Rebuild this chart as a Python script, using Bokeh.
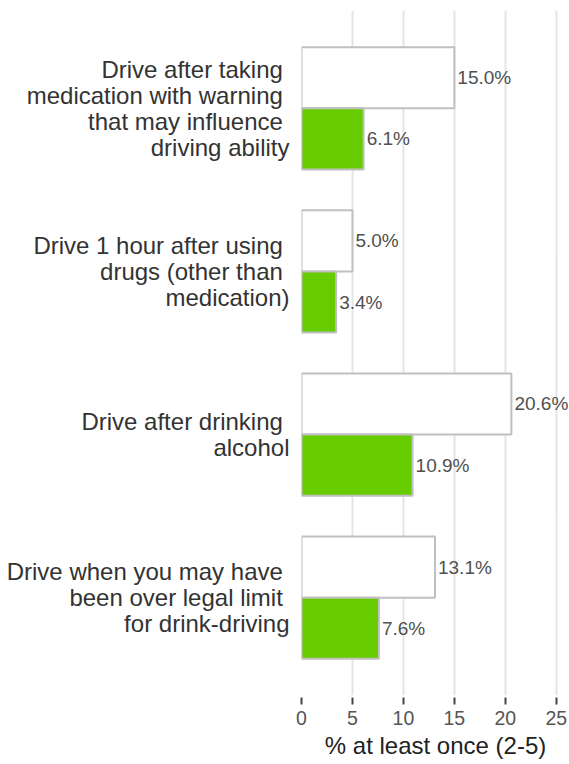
from bokeh.plotting import figure
from bokeh.models import FactorRange, ColumnDataSource, FixedTicker
from bokeh.transform import dodge
from bokeh.embed import file_html
from bokeh.resources import INLINE

categories = [
    "Drive after taking \nmedication with warning \nthat may influence \ndriving ability",
    "Drive 1 hour after using \ndrugs (other than \nmedication)",
    "Drive after drinking \nalcohol",
    "Drive when you may have \nbeen over legal limit \nfor drink-driving",
]
series_a = [15.0, 5.0, 20.6, 13.1]
series_b = [6.1, 3.4, 10.9, 7.6]
x_ticks = [0, 5, 10, 15, 20, 25]

src = ColumnDataSource(dict(
    cat=categories,
    a=series_a,
    b=series_b,
    a_lbl=["%.1f%%" % v for v in series_a],
    b_lbl=["%.1f%%" % v for v in series_b],
))

yr = FactorRange(factors=list(reversed(categories)), range_padding=0.05)

p = figure(width=569, height=764, y_range=yr, x_range=(0, 26.3),
           output_backend="svg", toolbar_location=None,
           min_border_left=301, min_border_right=0, min_border_top=10,
           min_border_bottom=69)
p.outline_line_color = None

FONT = "Liberation Sans"
H = 0.375

p.hbar(y=dodge("cat", H / 2, range=yr), right="a", left=0, height=H, source=src,
       fill_color="white", line_color="#c0c0c0", line_width=2)
p.hbar(y=dodge("cat", -H / 2, range=yr), right="b", left=0, height=H, source=src,
       fill_color="#66cc00", line_color="#c0c0c0", line_width=2)

p.text(x="a", y=dodge("cat", H / 2, range=yr), text="a_lbl", source=src,
       x_offset=3, text_baseline="middle", text_align="left",
       text_font_size="19px", text_color="#505050", text_font={"value": FONT})
p.text(x="b", y=dodge("cat", -H / 2, range=yr), text="b_lbl", source=src,
       x_offset=3, text_baseline="middle", text_align="left",
       text_font_size="19px", text_color="#505050", text_font={"value": FONT})

# grid
p.ygrid.grid_line_color = None
p.xgrid.grid_line_color = "#e4e4e4"
p.xgrid.grid_line_width = 2
p.xgrid.ticker = FixedTicker(ticks=x_ticks)

# y axis
ya = p.yaxis[0]
ya.axis_line_color = None
ya.major_tick_line_color = None
ya.major_tick_out = 0
ya.major_tick_in = 0
ya.minor_tick_line_color = None
ya.major_label_standoff = 12
ya.major_label_text_font = FONT
ya.major_label_text_font_size = "24px"
ya.major_label_text_line_height = 0.96
ya.major_label_text_color = "#333333"

# x axis
xa = p.xaxis[0]
xa.ticker = FixedTicker(ticks=x_ticks)
xa.axis_line_color = None
xa.major_tick_line_color = "#444444"
xa.major_tick_line_width = 2
xa.major_tick_in = -2
xa.major_tick_out = 9
xa.minor_tick_line_color = None
xa.major_label_standoff = 6
xa.major_label_text_font = FONT
xa.major_label_text_font_size = "19.5px"
xa.major_label_text_color = "#555555"
xa.axis_label = "% at least once (2-5)"
xa.axis_label_text_font = FONT
xa.axis_label_text_font_size = "24px"
xa.axis_label_text_font_style = "normal"
xa.axis_label_text_color = "#222222"
xa.axis_label_standoff = 4

open("out.html", "w").write(file_html(p, INLINE))
